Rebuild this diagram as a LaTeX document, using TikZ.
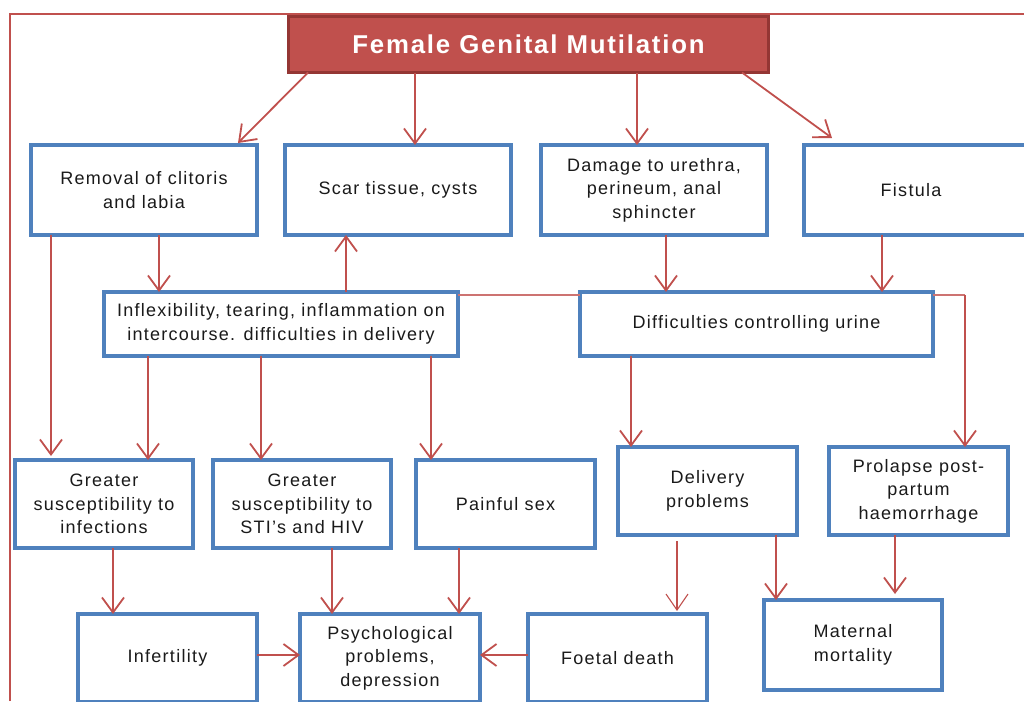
\documentclass[tikz,border=0pt]{standalone}
\usepackage{fontspec}
\setmainfont{Liberation Sans}[LetterSpace=7]
\usetikzlibrary{arrows.meta}
\definecolor{fgmred}{HTML}{C0504D}
\definecolor{fgmdark}{HTML}{943634}
\definecolor{fgmblue}{HTML}{4F81BD}
\definecolor{fgmtext}{HTML}{1A1A1A}
\tikzset{
  box/.style={draw=fgmblue, line width=3.6pt, fill=white, inner sep=0pt, outer sep=0pt,
    align=center, text=fgmtext, font=\fontsize{18}{23.5}\selectfont},
  titlebox/.style={draw=fgmdark, line width=3pt, fill=fgmred, inner sep=0pt, outer sep=0pt,
    text=white, font=\fontsize{25.8}{30}\selectfont\bfseries},
  arr/.style={draw=fgmred, line width=1.8pt, -{Straight Barb[length=15pt,width=22pt,line width=1.8pt]}},
  thinarr/.style={draw=fgmred, line width=1.1pt, -{Straight Barb[length=16pt,width=22pt,line width=1.1pt]}},
  link/.style={draw=fgmred!80, line width=1.3pt},
}
\begin{document}
\begin{tikzpicture}[x=1pt,y=-1pt]
\useasboundingbox (0,0) rectangle (1024,701);
\begin{scope}
\clip (0,0) rectangle (1024,701);
% frame
\draw[fgmred, line width=2pt] (10,701) -- (10,14) -- (1030,14);
% nodes
\node[titlebox, minimum width=480pt, minimum height=56pt] (title) at (528.5,44.5) {Female Genital Mutilation};
\node[box, minimum width=226pt, minimum height=90pt] (rem) at (144,190) {Removal of clitoris\\and labia};
\node[box, minimum width=226pt, minimum height=90pt] (scar) at (398,190) {Scar tissue, cysts};
\node[box, minimum width=226pt, minimum height=90pt] (dam) at (654,190) {Damage to urethra,\\perineum, anal\\sphincter};
\node[box, minimum width=236pt, minimum height=90pt] (fis) at (922,190) {\hspace*{-22pt}Fistula};
\node[box, minimum width=354pt, minimum height=64pt] (infl) at (281,324) {Inflexibility, tearing, inflammation on\\intercourse. difficulties in delivery};
\node[box, minimum width=353pt, minimum height=64pt] (diff) at (756.5,324) {Difficulties controlling urine};
\node[box, minimum width=178pt, minimum height=88pt] (ginf) at (104,504) {Greater\\susceptibility to\\infections};
\node[box, minimum width=178pt, minimum height=88pt] (gsti) at (302,504) {Greater\\susceptibility to\\STI's and HIV};
\node[box, minimum width=179pt, minimum height=88pt] (pain) at (505.5,504) {Painful sex};
\node[box, minimum width=179pt, minimum height=88pt] (deliv) at (707.5,491) {Delivery\\problems};
\node[box, minimum width=179pt, minimum height=88pt] (prol) at (918.5,491) {Prolapse post-\\partum\\haemorrhage};
\node[box, minimum width=179pt, minimum height=88pt] (infert) at (167.5,658) {Infertility};
\node[box, minimum width=180pt, minimum height=88pt] (psych) at (390,658) {Psychological\\problems,\\depression};
\node[box, minimum width=179pt, minimum height=88pt] (foetal) at (617.5,658) {Foetal death};
\node[box, minimum width=178pt, minimum height=90pt] (mat) at (853,645) {Maternal\\mortality};
% connectors from title
\draw[arr] (title.south -| 308,0) -- ([yshift=2pt]rem.north -| 238,0);
\draw[arr] (title.south -| 415,0) -- (scar.north -| 415,0);
\draw[arr] (title.south -| 637,0) -- (dam.north -| 637,0);
\draw[arr] (title.south -| 742,0) -- ([yshift=7pt]fis.north -| 832,0);
% row 1 to row 2
\draw[arr] (rem.south -| 159,0) -- (infl.north -| 159,0);
\draw[arr] (infl.north -| 346,0) -- (scar.south -| 346,0);
\draw[arr] (dam.south -| 666,0) -- (diff.north -| 666,0);
\draw[arr] (fis.south -| 882,0) -- (diff.north -| 882,0);
\draw[link] (infl.east |- 0,295) -- (diff.west |- 0,295);
\coordinate (bend) at (965,295);
\draw[link] (diff.east |- bend) -- (bend);
\draw[arr, line width=1.3pt] (bend) -- (prol.north -| bend);
% row 2 to row 3
\draw[arr] (rem.south -| 51,0) -- ([yshift=4pt]ginf.north -| 51,0);
\draw[arr] (infl.south -| 148,0) -- (ginf.north -| 148,0);
\draw[arr] (infl.south -| 261,0) -- (gsti.north -| 261,0);
\draw[arr] (infl.south -| 431,0) -- (pain.north -| 431,0);
\draw[arr] (diff.south -| 631,0) -- (deliv.north -| 631,0);
% row 3 to row 4
\draw[arr] (ginf.south -| 113,0) -- (infert.north -| 113,0);
\draw[arr] (gsti.south -| 332,0) -- (psych.north -| 332,0);
\draw[arr] (pain.south -| 459,0) -- (psych.north -| 459,0);
\draw[arr] (infert.east |- 0,655) -- (psych.west |- 0,655);
\draw[arr] (foetal.west |- 0,655) -- (psych.east |- 0,655);
\draw[thinarr] ([yshift=-6pt]deliv.south -| 677,0) -- ([yshift=3pt]foetal.north -| 677,0);
\draw[arr] (deliv.south -| 776,0) -- (mat.north -| 776,0);
\draw[arr] (prol.south -| 895,0) -- ([yshift=6pt]mat.north -| 895,0);
\end{scope}
\end{tikzpicture}
\end{document}
